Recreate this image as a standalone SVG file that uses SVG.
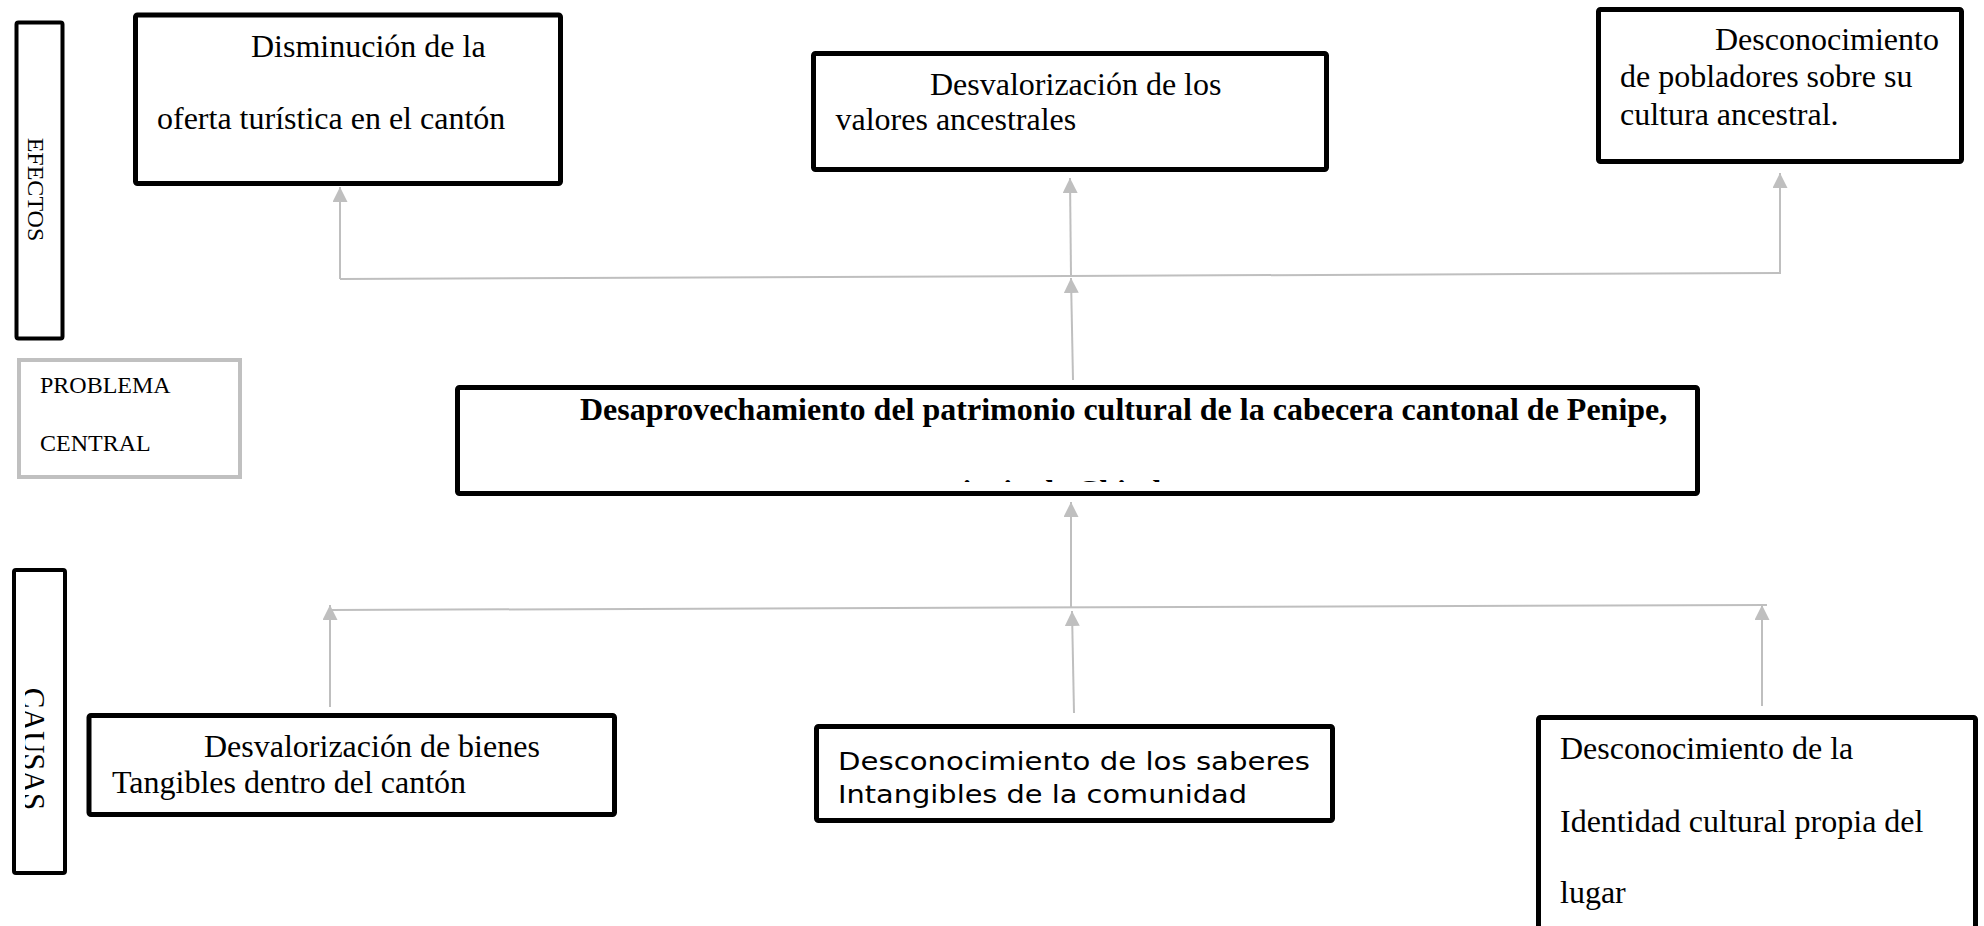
<svg xmlns="http://www.w3.org/2000/svg" width="1984" height="926" viewBox="0 0 1984 926">
  <style>
    .box { fill: #ffffff; stroke: #000000; stroke-width: 5; }
    .side { fill: #ffffff; stroke: #000000; stroke-width: 4; }
    .gbox { fill: #ffffff; stroke: #c0c0c0; stroke-width: 4; }
    .t { font-family: "Liberation Serif", "Times New Roman", serif; font-size: 32px; fill: #000000; }
    .tb { font-family: "Liberation Serif", "Times New Roman", serif; font-size: 32px; font-weight: bold; fill: #000000; }
    .ts { font-family: "Liberation Serif", "Times New Roman", serif; font-size: 24px; fill: #000000; }
    .sans { font-family: "DejaVu Sans", "Liberation Sans", sans-serif; font-size: 25px; fill: #000000; }
    .conn { stroke: #bfbfbf; stroke-width: 2; fill: none; }
    .arr { stroke: #bfbfbf; stroke-width: 2; fill: none; marker-end: url(#ah); }
  </style>
  <defs>
    <marker id="ah" markerUnits="userSpaceOnUse" markerWidth="16" markerHeight="16" refX="15" refY="7.5" orient="auto">
      <path d="M0,0 L15,7.5 L0,15 z" fill="#bfbfbf"/>
    </marker>
    <clipPath id="clipCentral">
      <rect x="460" y="390" width="1235" height="92"/>
    </clipPath>
    <clipPath id="clipCausas">
      <rect x="25" y="572" width="36" height="299"/>
    </clipPath>
  </defs>

  <rect width="1984" height="926" fill="#ffffff"/>

  <g id="connectors">
    <line class="conn" x1="340" y1="279" x2="1781" y2="273"/>
    <line class="arr" x1="340" y1="279" x2="340" y2="187"/>
    <line class="arr" x1="1071" y1="276" x2="1070" y2="178"/>
    <line class="arr" x1="1780" y1="273" x2="1780" y2="173"/>
    <line class="arr" x1="1073" y1="380" x2="1071" y2="278"/>
    <line class="conn" x1="330" y1="610" x2="1767" y2="605"/>
    <line class="arr" x1="330" y1="707" x2="330" y2="605"/>
    <line class="arr" x1="1074" y1="713" x2="1072" y2="611"/>
    <line class="arr" x1="1762" y1="706" x2="1762" y2="605"/>
    <line class="arr" x1="1071" y1="608" x2="1071" y2="502"/>
  </g>

  <g id="label-efectos">
    <rect class="side" x="16.5" y="22.5" width="46" height="316" rx="2"/>
    <text class="ts" text-anchor="middle" transform="translate(27.5,189.5) rotate(90)">EFECTOS</text>
  </g>

  <g id="effect-1">
    <rect class="box" x="135.5" y="15" width="425" height="168.5" rx="2"/>
    <text class="t" x="251" y="57">Disminución de la</text>
    <text class="t" x="157" y="129">oferta turística en el cantón</text>
  </g>

  <g id="effect-2">
    <rect class="box" x="813.5" y="53.5" width="513" height="116" rx="2"/>
    <text class="t" x="930" y="95">Desvalorización de los</text>
    <text class="t" x="835.5" y="130">valores ancestrales</text>
  </g>

  <g id="effect-3">
    <rect class="box" x="1598.5" y="9.5" width="363" height="152" rx="2"/>
    <text class="t" x="1715" y="50">Desconocimiento</text>
    <text class="t" x="1620" y="87">de pobladores sobre su</text>
    <text class="t" x="1620" y="125">cultura ancestral.</text>
  </g>

  <g id="label-problema">
    <rect class="gbox" x="19" y="360" width="221" height="117"/>
    <text class="ts" x="40" y="393">PROBLEMA</text>
    <text class="ts" x="40" y="451">CENTRAL</text>
  </g>

  <g id="central-problem">
    <rect class="box" x="457.5" y="387.5" width="1240" height="106" rx="2"/>
    <text class="tb" x="580" y="420">Desaprovechamiento del patrimonio cultural de la cabecera cantonal de Penipe,</text>
    <g clip-path="url(#clipCentral)">
      <text class="tb" x="899" y="502">provincia de Chimborazo</text>
    </g>
  </g>

  <g id="label-causas">
    <rect class="side" x="14" y="570" width="51" height="303" rx="2"/>
    <g clip-path="url(#clipCausas)">
      <text class="t" style="font-size:31px" text-anchor="middle" transform="translate(22.5,749) rotate(90)">CAUSAS</text>
    </g>
  </g>

  <g id="cause-1">
    <rect class="box" x="89" y="715.5" width="525.5" height="99" rx="2"/>
    <text class="t" x="204" y="757">Desvalorización de bienes</text>
    <text class="t" x="112" y="793">Tangibles dentro del cantón</text>
  </g>

  <g id="cause-2">
    <rect class="box" x="816.5" y="726.5" width="516" height="94" rx="2"/>
    <text class="sans" x="838" y="770" textLength="472" lengthAdjust="spacingAndGlyphs">Desconocimiento de los saberes</text>
    <text class="sans" x="838" y="803" textLength="409" lengthAdjust="spacingAndGlyphs">Intangibles de la comunidad</text>
  </g>

  <g id="cause-3">
    <rect class="box" x="1538.5" y="717.5" width="437" height="250" rx="2"/>
    <text class="t" x="1560" y="759">Desconocimiento de la</text>
    <text class="t" x="1560" y="832">Identidad cultural propia del</text>
    <text class="t" x="1560" y="903">lugar</text>
  </g>
</svg>
